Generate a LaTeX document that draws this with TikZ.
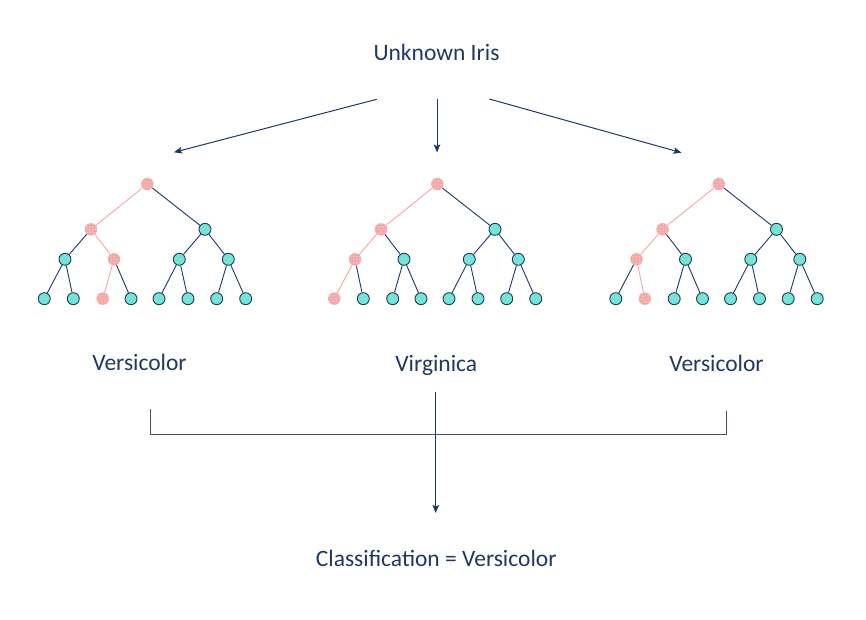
\documentclass[tikz,border=0pt]{standalone}
\usepackage{fontspec}
\setmainfont{Carlito}
\usetikzlibrary{arrows.meta,patterns}
\definecolor{navy}{HTML}{203864}
\definecolor{slate}{HTML}{44546A}
\definecolor{tealfill}{HTML}{72E5D4}
\definecolor{pinkfill}{HTML}{F4A7A7}
\tikzset{
  tnode/.style={circle,draw=navy,line width=0.9pt,fill=tealfill,minimum size=12pt,inner sep=0pt},
  rnode/.style={circle,preaction={fill=pinkfill},pattern=dots,pattern color=white,minimum size=12.5pt,inner sep=0pt},
  tedge/.style={draw=navy,line width=0.9pt},
  redge/.style={draw=pinkfill,line width=0.9pt},
  lbl/.style={text=navy,font=\fontsize{23.5}{28}\selectfont,anchor=base,inner sep=0pt},
  arr/.style={draw=navy,line width=1pt,-{Stealth[length=8pt,width=6.5pt,inset=1.5pt]}},
  bracket/.style={draw=slate,line width=1pt}
}
\newcommand\irtree[7]{%
\begin{scope}[xshift=#2pt]
 \node[rnode] (#1r) at (147.3,184) {};
 \node[rnode] (#1a) at (91,229.3) {};
 \node[tnode] (#1b) at (205,229.3) {};
 \node[#3node] (#1c) at (65,259.3) {};
 \node[#4node] (#1d) at (114,259.3) {};
 \node[tnode] (#1e) at (179.3,259.3) {};
 \node[tnode] (#1f) at (228.3,259.3) {};
 \node[#5node] (#1g1) at (44.3,298.7) {};
 \node[#6node] (#1g2) at (73.3,298.7) {};
 \node[#7node] (#1g3) at (102.7,298.7) {};
 \node[tnode] (#1g4) at (131,298.7) {};
 \node[tnode] (#1g5) at (159,298.7) {};
 \node[tnode] (#1g6) at (188,298.7) {};
 \node[tnode] (#1g7) at (216.7,298.7) {};
 \node[tnode] (#1g8) at (245.7,298.7) {};
 \draw[redge] (#1r) -- (#1a);
 \draw[tedge] (#1r) -- (#1b);
 \draw[#3edge] (#1a) -- (#1c);
 \draw[#4edge] (#1a) -- (#1d);
 \draw[tedge] (#1b) -- (#1e);
 \draw[tedge] (#1b) -- (#1f);
 \draw[#5edge] (#1c) -- (#1g1);
 \draw[#6edge] (#1c) -- (#1g2);
 \draw[#7edge] (#1d) -- (#1g3);
 \draw[tedge] (#1d) -- (#1g4);
 \draw[tedge] (#1e) -- (#1g5);
 \draw[tedge] (#1e) -- (#1g6);
 \draw[tedge] (#1f) -- (#1g7);
 \draw[tedge] (#1f) -- (#1g8);
\end{scope}}
\begin{document}
\begin{tikzpicture}[x=1pt,y=-1pt]
\useasboundingbox (0,0) rectangle (866,620);
\fill[white] (0,0) rectangle (866,620);
\node[lbl] (unk) at (436.5,61) {Unknown Iris};
\irtree{A}{0}{t}{r}{t}{t}{r}
\irtree{B}{290}{r}{t}{r}{t}{t}
\irtree{C}{571.5}{r}{t}{t}{r}{t}
\coordinate (s1) at (376.7,99.3);
\coordinate (e1) at (174,152.3);
\coordinate (s2) at (437,99.5);
\coordinate (e2) at (437,152.5);
\coordinate (s3) at (489.3,99);
\coordinate (e3) at (681.5,152.7);
\draw[arr] (s1) -- (e1);
\draw[arr] (s2) -- (e2);
\draw[arr] (s3) -- (e3);
\node[lbl] (v1) at (139.5,370.5) {Versicolor};
\node[lbl] (v2) at (436.3,371) {Virginica};
\node[lbl] (v3) at (716.5,371) {Versicolor};
\coordinate (bl) at (150,409.3);
\coordinate (blb) at (150,434.5);
\coordinate (brb) at (726,434.5);
\coordinate (br) at (726,410.5);
\draw[bracket] (bl) -- (blb) -- (brb) -- (br);
\coordinate (cs) at (435.7,391.5);
\coordinate (ce) at (435.7,513);
\draw[arr] (cs) -- (ce);
\node[lbl] (cls) at (436.2,566.7) {Classification = Versicolor};
\end{tikzpicture}
\end{document}
